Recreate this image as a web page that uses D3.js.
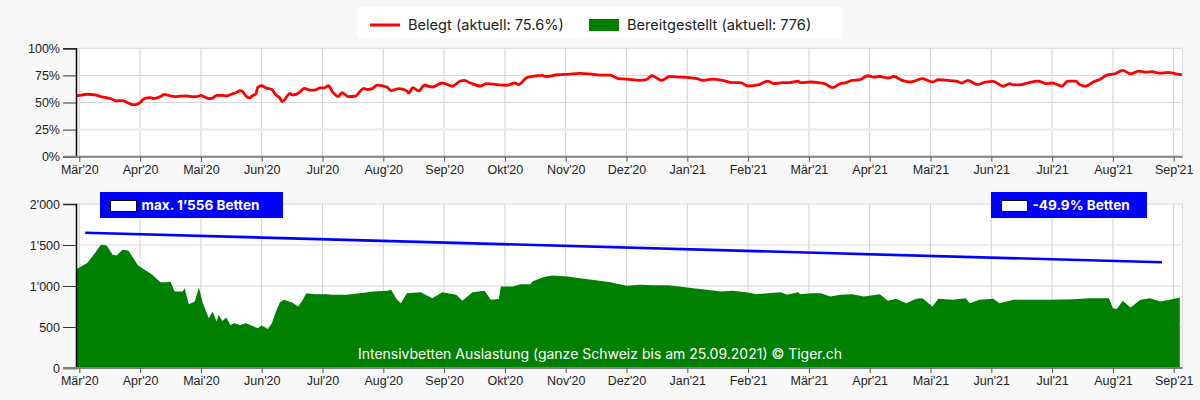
<!DOCTYPE html>
<html>
<head>
<meta charset="utf-8">
<script src="https://cdnjs.cloudflare.com/ajax/libs/d3/7.8.5/d3.min.js"></script>
<style>
  body { margin: 0; background: #f8f8f8; }
  svg { display: block; font-family: Inter, Roboto, "Liberation Sans", sans-serif; }
  .tick text { fill: #222; font-size: 12.5px; }
</style>
</head>
<body>
<div id="chart"></div>
<script>
// month tick labels, one per month from Mar 2020 to Sep 2021
var monthLabels = ["Mär'20","Apr'20","Mai'20","Jun'20","Jul'20","Aug'20","Sep'20","Okt'20","Nov'20","Dez'20",
                   "Jan'21","Feb'21","Mär'21","Apr'21","Mai'21","Jun'21","Jul'21","Aug'21","Sep'21"];
var pctTicks = [0, 25, 50, 75, 100];
var bedTicks = [0, 500, 1000, 1500, 2000];

// occupied ICU beds in percent
var belegtDates = ["2020-02-28","2020-03-01","2020-03-05","2020-03-09","2020-03-12","2020-03-17","2020-03-20","2020-03-23","2020-03-26","2020-03-28","2020-03-30",
  "2020-04-01","2020-04-03","2020-04-06","2020-04-08","2020-04-11","2020-04-13","2020-04-16","2020-04-18","2020-04-21","2020-04-24","2020-04-27","2020-04-29",
  "2020-05-01","2020-05-03","2020-05-05","2020-05-07","2020-05-09","2020-05-12","2020-05-14","2020-05-17","2020-05-19","2020-05-21","2020-05-22","2020-05-24","2020-05-26","2020-05-27","2020-05-29","2020-05-30",
  "2020-06-01","2020-06-03","2020-06-06","2020-06-08","2020-06-10","2020-06-11","2020-06-12","2020-06-14","2020-06-15","2020-06-16","2020-06-18","2020-06-20","2020-06-22","2020-06-25","2020-06-27","2020-06-30",
  "2020-07-02","2020-07-04","2020-07-06","2020-07-09","2020-07-11","2020-07-12","2020-07-14","2020-07-18","2020-07-20","2020-07-22","2020-07-24","2020-07-26","2020-07-29","2020-07-31",
  "2020-08-03","2020-08-05","2020-08-07","2020-08-09","2020-08-13","2020-08-14","2020-08-16","2020-08-19","2020-08-22","2020-08-26","2020-08-31",
  "2020-09-05","2020-09-09","2020-09-11","2020-09-14","2020-09-19","2020-09-22","2020-09-27",
  "2020-10-02","2020-10-06","2020-10-08","2020-10-12","2020-10-15","2020-10-20","2020-10-22","2020-10-28",
  "2020-11-02","2020-11-08","2020-11-14","2020-11-19","2020-11-23","2020-11-27",
  "2020-12-01","2020-12-08","2020-12-11","2020-12-14","2020-12-19","2020-12-23","2020-12-28",
  "2021-01-02","2021-01-06","2021-01-09","2021-01-14","2021-01-19","2021-01-24","2021-01-28",
  "2021-02-01","2021-02-06","2021-02-10","2021-02-13","2021-02-17","2021-02-20","2021-02-24","2021-02-25",
  "2021-03-02","2021-03-07","2021-03-09","2021-03-13","2021-03-17","2021-03-20","2021-03-23","2021-03-27","2021-03-31",
  "2021-04-03","2021-04-06","2021-04-10","2021-04-13","2021-04-17","2021-04-21","2021-04-23","2021-04-27",
  "2021-05-02","2021-05-05","2021-05-10","2021-05-14","2021-05-17","2021-05-20","2021-05-25","2021-05-29",
  "2021-06-02","2021-06-07","2021-06-10","2021-06-12","2021-06-16","2021-06-19","2021-06-24","2021-06-28",
  "2021-07-01","2021-07-06","2021-07-09","2021-07-13","2021-07-15","2021-07-18","2021-07-22","2021-07-25","2021-07-29",
  "2021-08-02","2021-08-06","2021-08-10","2021-08-14","2021-08-18","2021-08-21","2021-08-25","2021-08-29",
  "2021-09-02","2021-09-05"];
var belegtValues = [55.8,56.5,57.6,57.0,55.5,53.5,51.5,51.8,49.5,48,48,
  50,53.5,54.5,53.5,55.5,57.5,56,55.5,55.8,56,55.5,55.5,
  56.5,55,53.5,54,56.5,56.5,56,58,59,61,60.5,56,54,56,58,64,
  65.5,63.5,62,57,54,51,52,57,58.5,57,57.5,60,63,61.5,61.5,63.5,
  63.5,65.5,60,55.5,59,58,55.5,56,60,63,62,62.5,66,65.5,
  64,61,62,62.8,60.7,58.8,63.7,60.7,65.9,64.3,68,
  65,69.8,70.4,68,65.2,67.4,66.5,
  65.9,68,66.5,72.9,74,75,74,75.6,
  76,76.8,76.2,75.3,75.3,72,
  71.6,70.4,71,74.7,70.4,74,73.5,
  72.9,72,70.4,71.6,70.4,68.3,68.3,
  65.2,66.5,69.8,67.4,68.3,68.3,69.8,68.3,
  68.9,68,67.4,63.7,67.4,68.3,70.4,71,74.7,
  73.5,74,72.6,74,70.4,68.9,69.8,72,
  68.9,71,70.4,69.8,68,70.4,66.5,68.9,
  69.5,65,67.4,66.2,66.5,68,69.8,67.4,
  68,65,69.8,69.8,66.5,65,68.9,71,75.3,
  76.5,79.6,76.5,79,78,78.4,77,77.7,
  76.5,75.6];

// provided ICU beds
var bettenDates = ["2020-02-28","2020-03-02","2020-03-05","2020-03-09","2020-03-12","2020-03-15","2020-03-18","2020-03-20","2020-03-23","2020-03-26","2020-03-28","2020-03-31",
  "2020-04-04","2020-04-07","2020-04-11","2020-04-14","2020-04-16","2020-04-18","2020-04-22","2020-04-23","2020-04-25","2020-04-28","2020-04-30",
  "2020-05-02","2020-05-05","2020-05-07","2020-05-09","2020-05-10","2020-05-12","2020-05-14","2020-05-16","2020-05-18","2020-05-21","2020-05-24","2020-05-28","2020-05-30",
  "2020-06-01","2020-06-04","2020-06-06","2020-06-08","2020-06-10","2020-06-12","2020-06-16","2020-06-19","2020-06-21","2020-06-23","2020-06-27",
  "2020-07-03","2020-07-06","2020-07-13","2020-07-20","2020-07-27",
  "2020-08-03","2020-08-05","2020-08-08","2020-08-10","2020-08-13","2020-08-20","2020-08-26","2020-08-31",
  "2020-09-07","2020-09-10","2020-09-15","2020-09-21","2020-09-24","2020-09-28","2020-09-29",
  "2020-10-05","2020-10-09","2020-10-14","2020-10-15","2020-10-20","2020-10-25",
  "2020-11-02","2020-11-08","2020-11-14","2020-11-23",
  "2020-12-01","2020-12-08","2020-12-14","2020-12-22","2020-12-28",
  "2021-01-04","2021-01-11","2021-01-18","2021-01-24","2021-01-31",
  "2021-02-05","2021-02-10","2021-02-16","2021-02-19","2021-02-24","2021-02-25",
  "2021-03-02","2021-03-07","2021-03-12","2021-03-17","2021-03-23","2021-03-29",
  "2021-04-06","2021-04-10","2021-04-14","2021-04-19","2021-04-24","2021-04-27",
  "2021-05-02","2021-05-05","2021-05-12","2021-05-19","2021-05-21","2021-05-26",
  "2021-06-02","2021-06-05","2021-06-12","2021-06-22",
  "2021-07-01","2021-07-12","2021-07-20","2021-07-30",
  "2021-08-01","2021-08-03","2021-08-06","2021-08-10","2021-08-15","2021-08-20","2021-08-25","2021-08-30",
  "2021-09-04"];
var bettenValues = [1197,1238,1279,1401,1503,1495,1381,1373,1442,1434,1360,1250,
  1185,1136,1047,1047,1055,933,933,973,778,810,982,
  790,607,688,566,648,574,615,525,546,525,546,505,485,
  517,477,546,688,802,831,798,749,819,912,900,
  900,892,892,912,933,
  941,953,831,790,912,925,851,925,
  892,819,925,941,831,840,994,
  994,1022,1022,1055,1104,1128,
  1116,1096,1075,1047,
  1002,1014,1010,1010,994,
  973,953,933,941,925,
  900,912,925,892,925,900,
  912,912,872,892,900,872,
  900,819,843,790,843,851,
  749,843,831,851,790,831,
  843,790,831,831,
  831,839,851,851,
  729,721,819,737,831,851,810,831,
  859];

// blue capacity line
var trendDates = ["2020-03-04", "2021-08-26"];
var trendValues = [1650, 1289];

var W = 1200, H = 400;
var left = 76, right = 1182.5;
var top1 = 48.3, bottom1 = 156.7;
var top2 = 204, bottom2 = 368;

function monthIndex(s) {
  var p = s.split("-").map(Number);
  var dim = new Date(p[0], p[1], 0).getDate();
  return (p[0] - 2020) * 12 + (p[1] - 3) + (p[2] - 1) / dim;
}

var svg = d3.select("#chart").append("svg").attr("width", W).attr("height", H);

var x = d3.scaleLinear().domain([0, 18]).range([79.3, 1173.7]);
var y1 = d3.scaleLinear().domain([0, 100]).range([bottom1, top1]);
var y2 = d3.scaleLinear().domain([0, 2000]).range([bottom2, top2]);

var defs = svg.append("defs");
[["clip1", top1, bottom1], ["clip2", top2, bottom2]].forEach(function (c) {
  defs.append("clipPath").attr("id", c[0]).append("rect")
    .attr("x", left).attr("y", c[1] - 2).attr("width", right - left).attr("height", c[2] - c[1] + 2);
});

function drawFrame(yScale, ticks, t, b) {
  var g = svg.append("g");
  g.append("rect").attr("x", left).attr("y", t).attr("width", right - left).attr("height", b - t).attr("fill", "#fff");
  // vertical grid
  g.selectAll(".vg").data(d3.range(19)).enter().append("line")
    .attr("x1", d => x(d)).attr("x2", d => x(d)).attr("y1", t).attr("y2", b)
    .attr("stroke", "#d0d0d0").attr("stroke-width", 1);
  g.append("line").attr("x1", right).attr("x2", right).attr("y1", t).attr("y2", b)
    .attr("stroke", "#d8d8d8");
  // horizontal grid
  g.selectAll(".hg").data(ticks.slice(1)).enter().append("line")
    .attr("x1", left).attr("x2", right).attr("y1", d => yScale(d)).attr("y2", d => yScale(d))
    .attr("stroke", (d, i) => i === 0 ? "#ececec" : "#d8d8d8")
    .attr("stroke-width", (d, i) => i === 0 ? 2.5 : 1);
  return g;
}

function drawAxes(yScale, ticks, fmt, b) {
  var ya = svg.append("g").attr("transform", "translate(" + left + ",0)")
    .call(d3.axisLeft(yScale).tickValues(ticks).tickFormat(fmt).tickSize(13).tickPadding(3));
  ya.select(".domain").attr("stroke", "#000").attr("stroke-width", 1.5);
  ya.selectAll(".tick line").attr("stroke", "#333");

  var xa = svg.append("g").attr("transform", "translate(0," + b + ")")
    .call(d3.axisBottom(x).tickValues(d3.range(19)).tickFormat(i => monthLabels[i]).tickSize(5).tickSizeOuter(0).tickPadding(3));
  xa.select(".domain").attr("d", "M" + (left - 13) + ",0H" + right).attr("stroke", "#808080").attr("stroke-width", 2);
  xa.selectAll(".tick line").attr("stroke", "#555");
}

// ---- top chart: Belegt ----
drawFrame(y1, pctTicks, top1, bottom1);
var belegt = belegtDates.map((d, i) => ({ m: monthIndex(d), v: belegtValues[i] }));
svg.append("path").datum(belegt)
  .attr("clip-path", "url(#clip1)")
  .attr("fill", "none").attr("stroke", "#ff0000").attr("stroke-width", 2.8)
  .attr("stroke-linejoin", "round")
  .attr("d", d3.line().x(d => x(d.m)).y(d => y1(d.v)).curve(d3.curveMonotoneX));
drawAxes(y1, pctTicks, d => d + "%", bottom1);

// ---- bottom chart: Bereitgestellt ----
drawFrame(y2, bedTicks, top2, bottom2);
var betten = bettenDates.map((d, i) => ({ m: monthIndex(d), v: bettenValues[i] }));
svg.append("path").datum(betten)
  .attr("clip-path", "url(#clip2)")
  .attr("fill", "#008000")
  .attr("d", d3.area().x(d => x(d.m)).y0(y2(0)).y1(d => y2(d.v)));

var trend = trendDates.map((d, i) => ({ m: monthIndex(d), v: trendValues[i] }));
svg.append("path").datum(trend)
  .attr("fill", "none").attr("stroke", "#0000ff").attr("stroke-width", 2.6)
  .attr("d", d3.line().x(d => x(d.m)).y(d => y2(d.v)));

var bedFmt = function (d) { return d3.format(",")(d).replace(",", "'"); };
drawAxes(y2, bedTicks, bedFmt, bottom2);

svg.append("text").attr("x", 600).attr("y", 359).attr("text-anchor", "middle")
  .attr("fill", "#fff").style("font-size", "14px")
  .text("Intensivbetten Auslastung (ganze Schweiz bis am 25.09.2021) © Tiger.ch");

// annotation boxes
function badge(x0, x1, label) {
  var g = svg.append("g");
  g.append("rect").attr("x", x0).attr("y", 192).attr("width", x1 - x0).attr("height", 26).attr("fill", "#0000ff");
  g.append("rect").attr("x", x0 + 10.5).attr("y", 200.5).attr("width", 26).attr("height", 11)
    .attr("fill", "#fff").attr("stroke", "#000").attr("stroke-width", 1);
  g.append("text").attr("x", x0 + 41.5).attr("y", 209.5).attr("fill", "#fff")
    .style("font-size", "13.6px").style("font-weight", "bold").text(label);
}
badge(100, 283, "max. 1’556 Betten");
badge(991, 1147, "-49.9% Betten");

// ---- legend ----
var lg = svg.append("g");
lg.append("rect").attr("x", 357).attr("y", 7).attr("width", 485).attr("height", 31).attr("fill", "#fff");
lg.append("line").attr("x1", 370).attr("x2", 400).attr("y1", 25).attr("y2", 25)
  .attr("stroke", "#ff0000").attr("stroke-width", 3);
lg.append("text").attr("x", 408).attr("y", 29.5).style("font-size", "14.6px").attr("fill", "#222")
  .text("Belegt (aktuell: 75.6%)");
lg.append("rect").attr("x", 589).attr("y", 19).attr("width", 30).attr("height", 12).attr("fill", "#008000");
lg.append("text").attr("x", 627).attr("y", 29.5).style("font-size", "14.6px").attr("fill", "#222")
  .text("Bereitgestellt (aktuell: 776)");
</script>
</body>
</html>
